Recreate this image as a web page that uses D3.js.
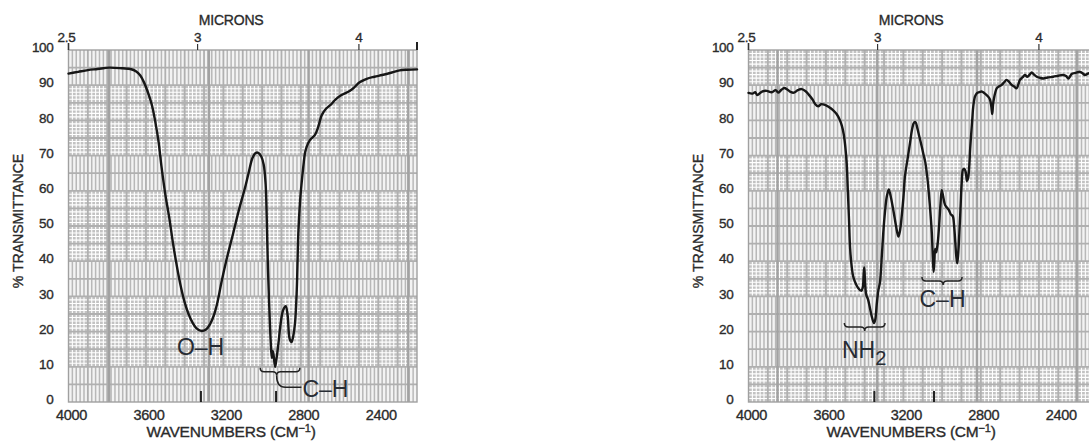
<!DOCTYPE html>
<html><head><meta charset="utf-8">
<script src="https://cdn.jsdelivr.net/npm/d3@7"></script>
<style>
html,body{margin:0;padding:0;background:#fff;}
svg{display:block;font-family:"Liberation Sans",Arial,Helvetica,sans-serif;}
</style></head><body>
<svg id="chart" width="1089" height="442"></svg>
<script>
// ---------- axis ticks ----------
const transmittanceTicks = [0, 10, 20, 30, 40, 50, 60, 70, 80, 90, 100];
const wavenumberTicks = [4000, 3600, 3200, 2800, 2400];
const micronTicks = [2.5, 3, 4];
const micronTickLabels = ["2.5", "3", "4"];

// ---------- spectrum 1: alcohol (wavenumber cm-1, % transmittance) ----------
const alcoholSpectrum = [
  [4000, 93.3], [3950, 93.8], [3900, 94.3], [3850, 94.6], [3790, 95.0], [3720, 94.8],
  [3680, 94.6], [3650, 93.9], [3630, 92.8], [3610, 90.8], [3590, 88.0], [3570, 84.5],
  [3553, 80.0], [3535, 74.0], [3520, 67.0], [3500, 59.0], [3480, 52.5], [3460, 45.0],
  [3440, 38.5], [3420, 32.8], [3400, 28.3], [3380, 25.0], [3360, 22.6], [3340, 21.0],
  [3315, 20.2], [3290, 20.6], [3270, 22.0], [3250, 24.5], [3230, 28.5], [3210, 34.0],
  [3190, 39.0], [3170, 43.5], [3150, 47.8], [3120, 54.5], [3090, 60.5], [3070, 65.0],
  [3050, 69.3], [3035, 70.7], [3020, 70.8], [3005, 69.8], [2992, 67.5], [2982, 62.0],
  [2976, 52.0], [2970, 38.0], [2963, 27.0], [2956, 17.5], [2950, 12.5], [2945, 14.5],
  [2940, 13.0], [2933, 10.0], [2925, 12.5], [2915, 17.0], [2905, 22.0], [2892, 26.0],
  [2878, 27.2], [2868, 24.5], [2858, 18.0], [2848, 17.0], [2840, 18.5], [2830, 22.4],
  [2821, 31.8], [2813, 47.9], [2804, 57.0], [2796, 62.1], [2785, 68.0], [2779, 70.6],
  [2770, 72.5], [2753, 74.4], [2727, 75.9], [2710, 78.2], [2692, 81.5], [2670, 83.3],
  [2645, 84.5], [2620, 86.0], [2590, 87.2], [2550, 88.3], [2525, 89.3], [2500, 90.7],
  [2460, 91.8], [2420, 92.4], [2380, 92.9], [2330, 93.6], [2290, 94.2], [2250, 94.4],
  [2200, 94.5]
];

// ---------- spectrum 2: primary amine ----------
const amineSpectrum = [
  [4000, 87.8], [3980, 87.6], [3965, 88.0], [3955, 87.2], [3930, 88.2], [3906, 88.4],
  [3880, 88.0], [3860, 88.6], [3845, 87.9], [3830, 88.7], [3815, 89.2], [3800, 88.8],
  [3780, 88.0], [3765, 87.9], [3745, 88.6], [3725, 88.9], [3705, 88.3], [3690, 87.4],
  [3670, 86.0], [3655, 84.6], [3640, 84.0], [3625, 84.6], [3605, 84.4], [3585, 83.8],
  [3565, 83.0], [3545, 81.8], [3530, 80.3], [3518, 78.5], [3508, 76.0], [3500, 72.5],
  [3493, 68.0], [3487, 60.0], [3481, 52.0], [3475, 43.5], [3467, 38.5], [3459, 35.6],
  [3445, 33.5], [3433, 32.3], [3418, 31.6], [3410, 32.5], [3405, 36.5], [3402, 38.2],
  [3398, 34.0], [3392, 30.5], [3382, 29.0], [3372, 26.5], [3362, 24.0], [3352, 22.4],
  [3345, 23.5], [3338, 27.5], [3330, 31.5], [3321, 34.0], [3312, 41.0], [3304, 48.0],
  [3295, 54.0], [3286, 58.3], [3276, 60.4], [3268, 59.0], [3252, 54.5], [3238, 50.0],
  [3226, 47.0], [3218, 48.5], [3209, 52.6], [3200, 58.0], [3192, 64.0], [3180, 68.5],
  [3166, 73.5], [3155, 77.5], [3145, 79.4], [3137, 79.5], [3128, 77.8], [3118, 75.5],
  [3105, 72.5], [3095, 70.0], [3088, 68.5], [3078, 64.5], [3070, 60.2], [3060, 53.5],
  [3053, 47.9], [3048, 41.0], [3044, 37.0], [3040, 40.0], [3036, 43.5], [3031, 42.5],
  [3028, 43.2], [3022, 45.5], [3015, 50.5], [3008, 56.5], [3002, 60.2], [2995, 58.5],
  [2985, 56.0], [2976, 55.3], [2965, 54.5], [2955, 53.3], [2945, 52.8], [2938, 50.0],
  [2932, 45.5], [2927, 41.5], [2922, 39.4], [2917, 42.0], [2911, 48.0], [2905, 55.0],
  [2899, 62.1], [2892, 66.0], [2885, 66.2], [2877, 65.0], [2872, 62.8], [2866, 63.5],
  [2860, 66.9], [2855, 72.0], [2850, 76.0], [2844, 80.5], [2839, 84.0], [2830, 86.8],
  [2821, 87.7], [2808, 88.0], [2796, 88.2], [2783, 87.8], [2770, 87.2], [2760, 86.6],
  [2752, 85.8], [2746, 84.0], [2741, 81.8], [2737, 84.5], [2732, 86.3], [2725, 88.0],
  [2718, 89.1], [2705, 89.7], [2692, 90.1], [2680, 90.8], [2667, 91.5], [2655, 91.0],
  [2641, 90.1], [2628, 89.6], [2615, 89.1], [2606, 90.3], [2598, 91.5], [2585, 92.2],
  [2572, 92.9], [2560, 92.4], [2548, 93.0], [2537, 93.6], [2525, 93.0], [2511, 92.4],
  [2495, 92.1], [2477, 91.9], [2455, 92.2], [2426, 92.4], [2400, 92.7], [2374, 92.9],
  [2360, 92.6], [2348, 91.9], [2338, 92.6], [2331, 93.2], [2310, 93.5], [2288, 93.8],
  [2275, 93.4], [2262, 92.9], [2250, 93.2], [2241, 93.4], [2220, 93.2], [2200, 93.4]
];

// ---------- panel layout ----------
const panels = [
  {
    offsetX: 0, spectrum: alcoholSpectrum, stripeTop: true, heavyStart: 3790,
    peakMarks: [3316, 2928],
    labels: [
      { text: "O\u2013H", wn: 3318, t: 13.4, anchor: "middle" },
      { text: "C\u2013H", wn: 2792, t: 1.4, anchor: "start" }
    ],
    braces: [{ from: 3010, to: 2805, t: 8.6, tip: 2925, dir: 1, leader: { wn: 2880, t: 4.2, end: 2797 } }]
  },
  {
    offsetX: 680, spectrum: amineSpectrum, stripeTop: false, heavyStart: 3850,
    peakMarks: [3350, 3042],
    labels: [
      { text: "NH", sub: "2", wn: 3517, t: 12.5, anchor: "start" },
      { text: "C\u2013H", wn: 2998, t: 27.0, anchor: "middle" }
    ],
    braces: [
      { from: 3505, to: 3295, t: 21.3, tip: 3400, dir: 1 },
      { from: 3104, to: 2897, t: 34.4, tip: 2995, dir: 1 }
    ]
  }
];

const svg = d3.select("#chart");
const textColor = "#2b2b2b";

// slightly heavier text, like printed lettering
function ink(sel, w) {
  return sel.attr("fill", textColor).attr("stroke", textColor).attr("stroke-width", w || 0.35);
}

panels.forEach((p, pi) => {
  const x = d3.scaleLinear().domain([4000, 2200]).range([68.5 + p.offsetX, 417 + p.offsetX]);
  const y = d3.scaleLinear().domain([0, 100]).range([402, 50]);
  const [x0, x1] = x.range();
  const titleX = x(3160);
  const g = svg.append("g");

  const clipId = "plot-clip-" + pi;
  g.append("clipPath").attr("id", clipId)
    .append("rect").attr("x", x0).attr("y", y(100)).attr("width", x1 - x0).attr("height", y(0) - y(100));

  // chart-paper background
  const paper = g.append("g").attr("clip-path", `url(#${clipId})`);
  const bands = [[90, 100], [70, 90], [60, 70], [40, 60], [30, 40], [10, 30], [0, 10]];
  const minorWn = d3.range(4000, 2199, -20).filter(v => v % 100 !== 0);
  bands.forEach((b, i) => {
    const striped = (i % 2 === 0) === p.stripeTop;
    const yt = y(b[1]), yb = y(b[0]);
    paper.append("rect").attr("x", x0).attr("y", yt).attr("width", x1 - x0).attr("height", yb - yt)
      .attr("fill", striped ? "#f3f3f3" : "#c2c2c2");
    if (striped) {
      paper.append("g").selectAll("line").data(minorWn).join("line")
        .attr("x1", d => x(d)).attr("x2", d => x(d)).attr("y1", yt).attr("y2", yb)
        .attr("stroke", "#b8b8b8").attr("stroke-width", 1.5);
    } else {
      const minorT = d3.range(b[0] + 1, b[1]).filter(v => v % 5 !== 0);
      paper.append("g").selectAll("line").data(minorT).join("line")
        .attr("x1", x0).attr("x2", x1).attr("y1", d => y(d)).attr("y2", d => y(d))
        .attr("stroke", "#ffffff").attr("stroke-width", 1.1);
      paper.append("g").selectAll("line").data(minorWn).join("line")
        .attr("x1", d => x(d)).attr("x2", d => x(d)).attr("y1", yt).attr("y2", yb)
        .attr("stroke", "#ffffff").attr("stroke-width", 1.1);
    }
  });
  // major grid: every 5 % and every 100 cm-1
  paper.append("g").selectAll("line").data(d3.range(5, 100, 5)).join("line")
    .attr("x1", x0).attr("x2", x1).attr("y1", d => y(d)).attr("y2", d => y(d))
    .attr("stroke", "#b0b0b0").attr("stroke-width", 1.8);
  paper.append("g").selectAll("line").data(d3.range(3900, 2200, -100)).join("line")
    .attr("x1", d => x(d)).attr("x2", d => x(d)).attr("y1", y(100)).attr("y2", y(0))
    .attr("stroke", "#b0b0b0").attr("stroke-width", 1.8);
  paper.append("g").selectAll("line").data(d3.range(p.heavyStart, 2200, -515)).join("line")
    .attr("x1", d => x(d)).attr("x2", d => x(d)).attr("y1", y(100)).attr("y2", y(0))
    .attr("stroke", "#a2a2a2").attr("stroke-width", 2.4);

  // frame
  g.append("rect").attr("x", x0).attr("y", y(100)).attr("width", x1 - x0).attr("height", y(0) - y(100))
    .attr("fill", "none").attr("stroke", "#a0a0a0").attr("stroke-width", 1.4);

  // spectrum trace
  const line = d3.line().x(d => x(d[0])).y(d => y(d[1])).curve(d3.curveCatmullRom.alpha(0.5));
  g.append("path").datum(p.spectrum).attr("d", line)
    .attr("fill", "none").attr("stroke", "#161616").attr("stroke-width", 2.4)
    .attr("stroke-linejoin", "round").attr("stroke-linecap", "round");

  // peak position marks on the baseline
  g.append("g").selectAll("line").data(p.peakMarks).join("line")
    .attr("x1", d => x(d)).attr("x2", d => x(d)).attr("y1", y(0) - 11).attr("y2", y(0))
    .attr("stroke", "#222").attr("stroke-width", 2);

  // braces grouping the bands
  p.braces.forEach(b => {
    const xa = x(b.from), xb = x(b.to), xm = x(b.tip), yy = y(b.t), d = 4 * b.dir;
    const path = `M${xa},${yy - d} Q${xa},${yy} ${xa + 4},${yy} L${xm - 4},${yy} Q${xm},${yy} ${xm},${yy + d}`
      + ` Q${xm},${yy} ${xm + 4},${yy} L${xb - 4},${yy} Q${xb},${yy} ${xb},${yy - d}`;
    g.append("path").attr("d", path).attr("fill", "none").attr("stroke", "#222").attr("stroke-width", 1.5);
    if (b.leader) {
      const yl = y(b.leader.t);
      const lp = `M${xm},${yy + d} Q${xm},${yl} ${x(b.leader.wn)},${yl} L${x(b.leader.end)},${yl}`;
      g.append("path").attr("d", lp).attr("fill", "none").attr("stroke", "#222").attr("stroke-width", 1.5);
    }
  });

  // band labels
  p.labels.forEach(l => {
    const t = g.append("text").attr("x", x(l.wn)).attr("y", y(l.t))
      .attr("text-anchor", l.anchor).attr("font-size", 23).attr("fill", "#272c34").text(l.text);
    if (l.sub) t.append("tspan").attr("dy", 7).attr("font-size", 20).text(l.sub);
  });

  // y tick labels
  ink(g.append("g").selectAll("text").data(transmittanceTicks).join("text")
    .attr("x", x0 - 15).attr("y", d => y(d) - 2.5).attr("dy", "0.35em")
    .attr("text-anchor", "end").attr("font-size", 13.5).attr("letter-spacing", -0.3)
    .text(d => d));

  // x tick labels (wavenumbers)
  ink(g.append("g").selectAll("text").data(wavenumberTicks).join("text")
    .attr("x", d => x(d) + 3).attr("y", 420)
    .attr("text-anchor", "middle").attr("font-size", 14.5).attr("letter-spacing", -0.3)
    .text(d => d));

  // micron scale on top
  ink(g.append("g").selectAll("text").data(micronTicks).join("text")
    .attr("x", d => x(1e4 / d) - (d === 2.5 ? 2 : 0)).attr("y", 42)
    .attr("text-anchor", "middle").attr("font-size", 13.5).attr("letter-spacing", -0.3)
    .text((d, i) => micronTickLabels[i]));
  g.append("g").selectAll("line").data(micronTicks).join("line")
    .attr("x1", d => x(1e4 / d)).attr("x2", d => x(1e4 / d)).attr("y1", d => d === 2.5 ? 43 : 44).attr("y2", y(100))
    .attr("stroke", "#333").attr("stroke-width", d => d === 2.5 ? 1.6 : 1.2);
  g.append("line").attr("x1", x1).attr("x2", x1).attr("y1", 42).attr("y2", y(100))
    .attr("stroke", "#222").attr("stroke-width", 2);

  // axis titles
  ink(g.append("text").attr("x", titleX).attr("y", 25).attr("text-anchor", "middle")
    .attr("font-size", 14).attr("letter-spacing", -0.2).text("MICRONS"));
  const wt = ink(g.append("text").attr("x", titleX).attr("y", 437).attr("text-anchor", "middle")
    .attr("font-size", 15.5).attr("letter-spacing", -0.2).text("WAVENUMBERS (CM"));
  wt.append("tspan").attr("font-size", 11).attr("dy", -5).text("\u22121");
  wt.append("tspan").attr("dy", 5).text(")");
  ink(g.append("text").attr("transform", `translate(${x0 - 50},221) rotate(-90)`)
    .attr("text-anchor", "middle").attr("dy", "0.35em")
    .attr("font-size", 14.2).attr("letter-spacing", -0.1).text("% TRANSMITTANCE"));
});
</script>
</body></html>
